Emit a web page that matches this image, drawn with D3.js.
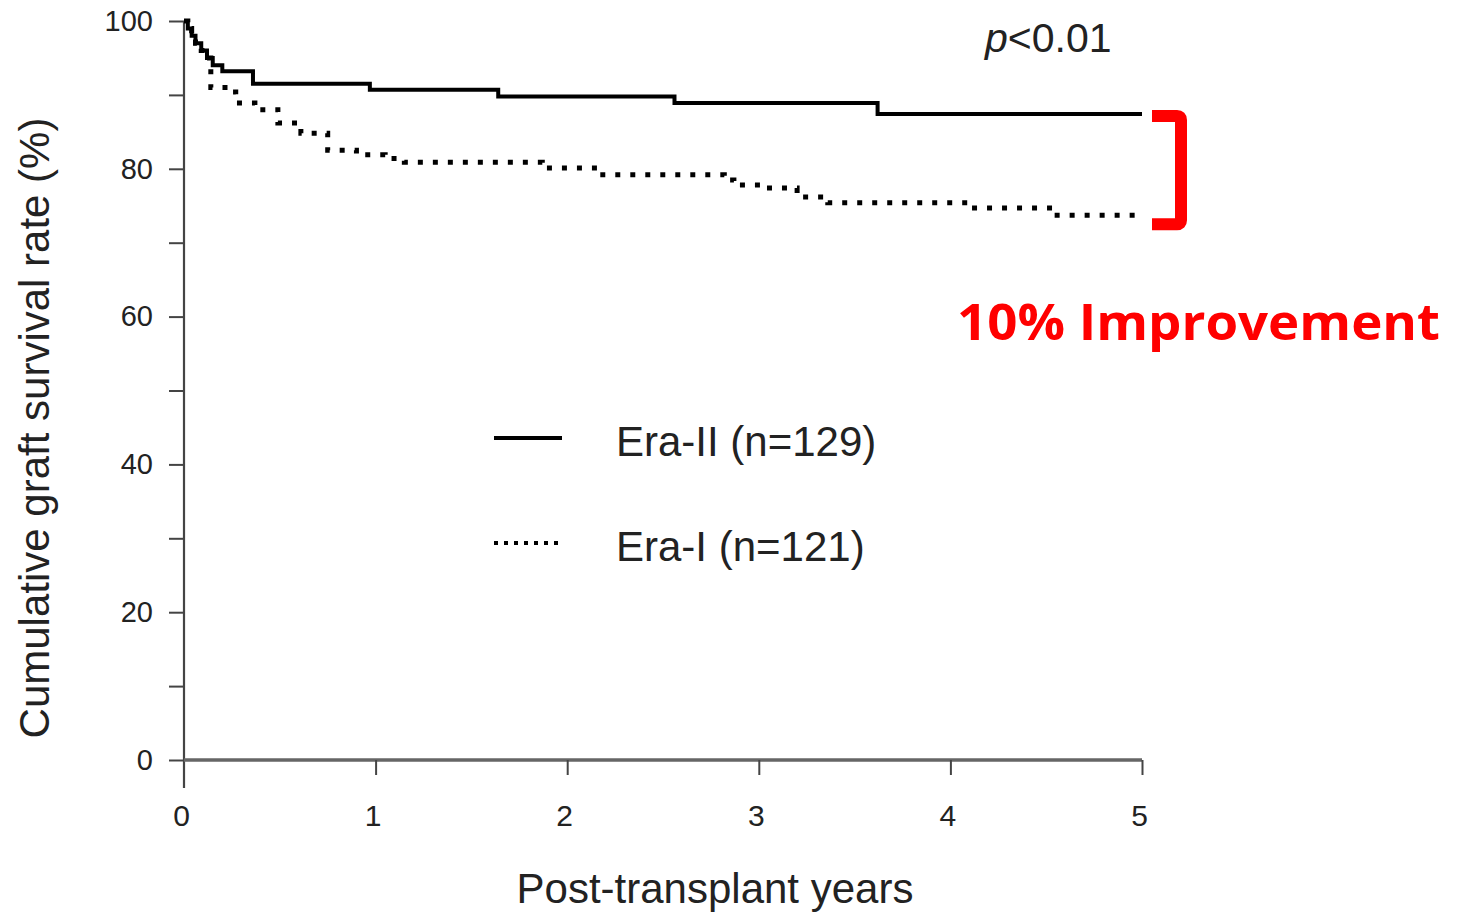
<!DOCTYPE html>
<html>
<head>
<meta charset="utf-8">
<script src="https://cdn.jsdelivr.net/npm/d3@7"></script>
<style>
  html, body { margin: 0; padding: 0; background: #fff; }
  svg { display: block; }
</style>
</head>
<body>
<svg id="chart" width="1464" height="914"></svg>
<script>
// ---- data ----
const xTicks = [0, 1, 2, 3, 4, 5];
const yMajorTicks = [0, 20, 40, 60, 80, 100];
const yMinorTicks = [10, 30, 50, 70, 90];
const seriesNames = ["Era-II (n=129)", "Era-I (n=121)"];

// Era-II (solid) step curve: time (years), survival (%)
const eraIITime = [0, 0.02, 0.04, 0.06, 0.09, 0.12, 0.15, 0.20, 0.36, 0.97, 1.64, 2.56, 3.62, 5.0];
const eraIISurv = [100, 99, 98, 97, 96, 95, 94, 93.2, 91.5, 90.7, 89.8, 88.9, 87.4, 87.4];

// Era-I (dotted) step curve
const eraITime = [0, 0.02, 0.04, 0.06, 0.09, 0.12, 0.14, 0.23, 0.27, 0.37, 0.49, 0.61, 0.75, 0.90, 1.05, 1.15, 1.87, 2.17, 2.82, 2.87, 3.04, 3.20, 3.36, 4.09, 4.54, 4.98];
const eraISurv = [100, 99, 98, 97, 96, 95, 91.0, 90.4, 88.9, 88.0, 86.2, 84.8, 82.5, 81.9, 81.4, 80.9, 80.1, 79.2, 78.5, 77.8, 77.4, 76.2, 75.4, 74.7, 73.7, 73.7];

const pValueText = "<0.01";
const xTitle = "Post-transplant years";
const yTitle = "Cumulative graft survival rate (%)";
const annotation = "10% Improvement";

// ---- drawing ----
const svg = d3.select("#chart");
const x = d3.scaleLinear().domain([0, 5]).range([184, 1142]);
const y = d3.scaleLinear().domain([0, 100]).range([760, 21]);

const tickFont = "'Liberation Sans', Arial, sans-serif";

// Y axis
const yAxis = d3.axisLeft(y)
  .tickValues(yMajorTicks.concat(yMinorTicks).sort((a, b) => a - b))
  .tickSize(15)
  .tickPadding(16)
  .tickFormat(d => yMajorTicks.includes(d) ? d : "");
const gy = svg.append("g").attr("transform", `translate(${x(0)},0)`).call(yAxis);
gy.select(".domain").remove();
gy.selectAll(".tick line").attr("stroke", "#444").attr("stroke-width", 2);
gy.selectAll(".tick text").attr("font-family", tickFont).attr("font-size", 29).attr("fill", "#222");
svg.append("line")
  .attr("x1", x(0)).attr("x2", x(0))
  .attr("y1", y(100)).attr("y2", y(0) + 28)
  .attr("stroke", "#444").attr("stroke-width", 2.2);

// X axis
const xAxis = d3.axisBottom(x).tickValues(xTicks).tickSize(15).tickPadding(30).tickFormat(d3.format("d"));
const gx = svg.append("g").attr("transform", `translate(0,${y(0)})`).call(xAxis);
gx.select(".domain").attr("stroke", "#666").attr("stroke-width", 3.5).attr("d", `M${x(0)},0H${x(5)}`);
gx.selectAll(".tick line").attr("stroke", "#444").attr("stroke-width", 2);
gx.selectAll(".tick").filter(d => d === 0).select("line").remove();
gx.selectAll(".tick text").attr("font-family", tickFont).attr("font-size", 30).attr("fill", "#222")
  .attr("transform", "translate(-3,0)");

// Axis titles
svg.append("text")
  .attr("x", 715).attr("y", 903)
  .attr("text-anchor", "middle")
  .attr("font-family", tickFont).attr("font-size", 42).attr("fill", "#222")
  .text(xTitle);
svg.append("text")
  .attr("transform", `translate(49,428) rotate(-90)`)
  .attr("text-anchor", "middle")
  .attr("font-family", tickFont).attr("font-size", 42).attr("fill", "#222")
  .text(yTitle);

// Curves
const line = d3.line().x(d => x(d[0])).y(d => y(d[1])).curve(d3.curveStepAfter);
const eraI = eraITime.map((t, i) => [t, eraISurv[i]]);
const eraII = eraIITime.map((t, i) => [t, eraIISurv[i]]);

svg.append("path").datum(eraI)
  .attr("d", line).attr("fill", "none")
  .attr("stroke", "#000").attr("stroke-width", 5)
  .attr("stroke-dasharray", "5,10");
svg.append("path").datum(eraII)
  .attr("d", line).attr("fill", "none")
  .attr("stroke", "#000").attr("stroke-width", 4);

// Legend
const legendY = [438, 543];
const legend = svg.append("g");
legend.append("line")
  .attr("x1", 494).attr("x2", 562).attr("y1", legendY[0]).attr("y2", legendY[0])
  .attr("stroke", "#000").attr("stroke-width", 4);
legend.append("line")
  .attr("x1", 494).attr("x2", 562).attr("y1", legendY[1]).attr("y2", legendY[1])
  .attr("stroke", "#000").attr("stroke-width", 4).attr("stroke-dasharray", "4,6");
legend.selectAll("text.lbl").data(seriesNames).join("text")
  .attr("class", "lbl")
  .attr("x", 616).attr("y", (d, i) => legendY[i] + 18)
  .attr("font-family", tickFont).attr("font-size", 42).attr("fill", "#222")
  .text(d => d);

// p-value
const pt = svg.append("text")
  .attr("x", 985).attr("y", 52)
  .attr("font-family", tickFont).attr("font-size", 41).attr("fill", "#222");
pt.append("tspan").attr("font-style", "italic").text("p");
pt.append("tspan").text(pValueText);

// Red bracket
const bx0 = 1152, bx1 = 1181, by0 = y(eraIISurv[eraIISurv.length - 1]) + 2, by1 = y(eraISurv[eraISurv.length - 1]) + 9;
svg.append("path")
  .attr("d", `M${bx0},${by0}H${bx1 - 4}Q${bx1},${by0} ${bx1},${by0 + 4}V${by1 - 4}Q${bx1},${by1} ${bx1 - 4},${by1}H${bx0}`)
  .attr("fill", "none").attr("stroke", "#ff0000").attr("stroke-width", 12)
  .attr("stroke-linejoin", "round");

// Annotation
svg.append("text")
  .attr("x", 957).attr("y", 340)
  .attr("font-family", "'Open Sans', 'Liberation Sans', sans-serif")
  .attr("font-weight", "bold").attr("font-size", 50).attr("fill", "#ff0000")
  .attr("textLength", 483).attr("lengthAdjust", "spacingAndGlyphs")
  .text(annotation);
</script>
</body>
</html>
